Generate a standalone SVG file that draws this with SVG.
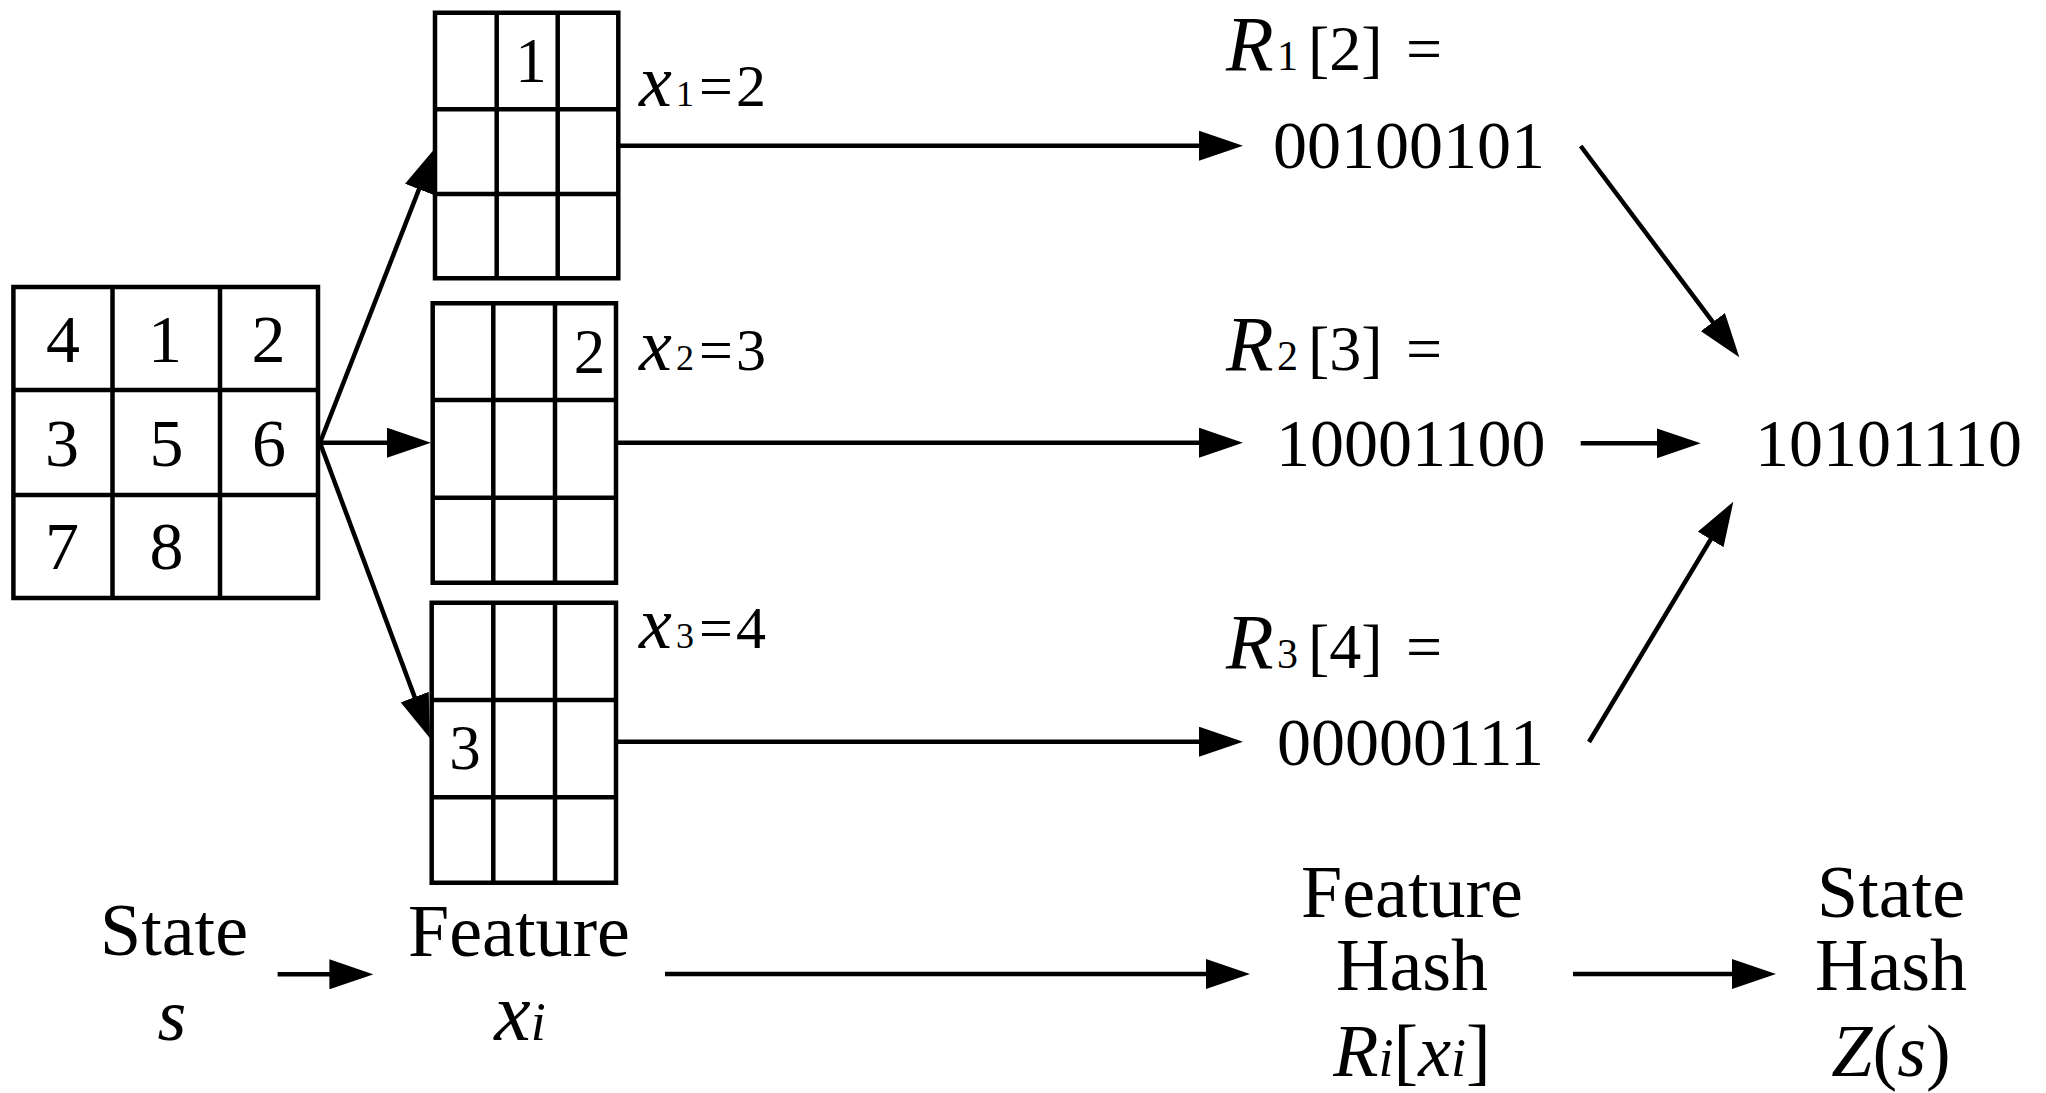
<svg xmlns="http://www.w3.org/2000/svg" width="2046" height="1093" viewBox="0 0 2046 1093">
  <style>
    .grid { fill: none; stroke: #000; stroke-width: 4.5; stroke-linecap: square; stroke-linejoin: miter; }
    .edge { fill: none; stroke: #000; stroke-width: 4.5; marker-end: url(#ah); }
    text { font-family: "Liberation Serif", "Times New Roman", serif; fill: #000; }
    .it { font-style: italic; }
    .num { font-size: 68px; text-anchor: middle; }
    .cell { font-size: 63px; text-anchor: middle; }
    .bits { font-size: 68px; }
    .lbl { font-size: 74px; text-anchor: middle; }
  </style>
  <defs>
    <marker id="ah" markerUnits="userSpaceOnUse" markerWidth="44" markerHeight="30" refX="36" refY="15" orient="auto">
      <path d="M0,0 L44,15 L0,30 Z" fill="#000"/>
    </marker>
  </defs>

  <!-- 3x3 puzzle state -->
  <g id="state">
    <path class="grid" d="M13.4,287 H318 V598 H13.4 Z M112.5,287 V598 M220,287 V598 M13.4,390 H318 M13.4,495 H318"/>
    <text class="num" x="63" y="362">4</text>
    <text class="num" x="165" y="362">1</text>
    <text class="num" x="268.5" y="362">2</text>
    <text class="num" x="62" y="466">3</text>
    <text class="num" x="166.5" y="466">5</text>
    <text class="num" x="269" y="466">6</text>
    <text class="num" x="62" y="569">7</text>
    <text class="num" x="166.5" y="569">8</text>
  </g>

  <!-- feature 1: position of tile 1 -->
  <g id="feature1">
    <path class="grid" d="M435,12.7 H618.3 V278.3 H435 Z M496.7,12.7 V278.3 M557.7,12.7 V278.3 M435,109.3 H618.3 M435,194 H618.3"/>
    <text class="cell" x="531" y="81.7">1</text>
    <text y="106"><tspan class="it" x="639" font-size="74">x</tspan><tspan x="676" font-size="36">1</tspan><tspan x="699" font-size="60">=</tspan><tspan x="736" font-size="60">2</tspan></text>
  </g>

  <!-- feature 2: position of tile 2 -->
  <g id="feature2">
    <path class="grid" d="M432.7,303.3 H616 V582.7 H432.7 Z M493.3,303.3 V582.7 M555,303.3 V582.7 M432.7,400 H616 M432.7,497.7 H616"/>
    <text class="cell" x="589.5" y="372.7">2</text>
    <text y="370"><tspan class="it" x="639" font-size="74">x</tspan><tspan x="676" font-size="36">2</tspan><tspan x="699" font-size="60">=</tspan><tspan x="736" font-size="60">3</tspan></text>
  </g>

  <!-- feature 3: position of tile 3 -->
  <g id="feature3">
    <path class="grid" d="M431.7,602.7 H616 V882.7 H431.7 Z M493.3,602.7 V882.7 M555,602.7 V882.7 M431.7,700 H616 M431.7,797.3 H616"/>
    <text class="cell" x="465" y="769">3</text>
    <text y="648"><tspan class="it" x="639" font-size="74">x</tspan><tspan x="676" font-size="36">3</tspan><tspan x="699" font-size="60">=</tspan><tspan x="736" font-size="60">4</tspan></text>
  </g>

  <!-- feature hash values -->
  <g id="hash1">
    <text y="70"><tspan class="it" x="1226" font-size="78">R</tspan><tspan x="1277" font-size="42">1</tspan><tspan x="1308" font-size="64">[2]</tspan><tspan x="1406" font-size="64">=</tspan></text>
    <text class="bits" x="1273" y="168">00100101</text>
  </g>
  <g id="hash2">
    <text y="370"><tspan class="it" x="1226" font-size="78">R</tspan><tspan x="1277" font-size="42">2</tspan><tspan x="1308" font-size="64">[3]</tspan><tspan x="1406" font-size="64">=</tspan></text>
    <text class="bits" x="1276" y="466">10001100</text>
  </g>
  <g id="hash3">
    <text y="668"><tspan class="it" x="1226" font-size="78">R</tspan><tspan x="1277" font-size="42">3</tspan><tspan x="1308" font-size="64">[4]</tspan><tspan x="1406" font-size="64">=</tspan></text>
    <text class="bits" x="1277" y="765">00000111</text>
  </g>

  <!-- combined state hash -->
  <g id="statehash">
    <text class="bits" x="1755" y="466">10101110</text>
  </g>

  <!-- legend row -->
  <g id="legend-state">
    <text class="lbl" x="174" y="955">State</text>
    <text class="lbl it" x="172" y="1040" font-size="80">s</text>
  </g>
  <g id="legend-feature">
    <text class="lbl" x="519" y="956">Feature</text>
    <text class="lbl" x="520" y="1040"><tspan class="it" font-size="82">x</tspan><tspan class="it" font-size="54">i</tspan></text>
  </g>
  <g id="legend-featurehash">
    <text class="lbl" x="1412" y="917">Feature</text>
    <text class="lbl" x="1412" y="990">Hash</text>
    <text class="lbl" x="1412" y="1076"><tspan class="it">R</tspan><tspan class="it" font-size="54">i</tspan><tspan>[</tspan><tspan class="it">x</tspan><tspan class="it" font-size="54">i</tspan><tspan>]</tspan></text>
  </g>
  <g id="legend-statehash">
    <text class="lbl" x="1891" y="917">State</text>
    <text class="lbl" x="1891" y="990">Hash</text>
    <text class="lbl" x="1891" y="1076"><tspan class="it">Z</tspan><tspan>(</tspan><tspan class="it">s</tspan><tspan>)</tspan></text>
  </g>

  <!-- connectors -->
  <g id="edges">
    <line class="edge" x1="320" y1="442.7" x2="432.1" y2="155.8"/>
    <line class="edge" x1="320" y1="442.7" x2="423" y2="442.7"/>
    <line class="edge" x1="320" y1="442.7" x2="427.2" y2="730.8"/>
    <line class="edge" x1="618" y1="145.7" x2="1235" y2="145.7"/>
    <line class="edge" x1="616" y1="442.7" x2="1235" y2="442.7"/>
    <line class="edge" x1="616" y1="741.7" x2="1235" y2="741.7"/>
    <line class="edge" x1="1580.7" y1="146" x2="1734.5" y2="350.9"/>
    <line class="edge" x1="1580.7" y1="443.3" x2="1692.7" y2="443.3"/>
    <line class="edge" x1="1589" y1="742" x2="1729.2" y2="508.6"/>
    <line class="edge" x1="277.6" y1="974.3" x2="365.4" y2="974.3"/>
    <line class="edge" x1="665" y1="974" x2="1242" y2="974"/>
    <line class="edge" x1="1573" y1="974" x2="1768" y2="974"/>
  </g>
</svg>
